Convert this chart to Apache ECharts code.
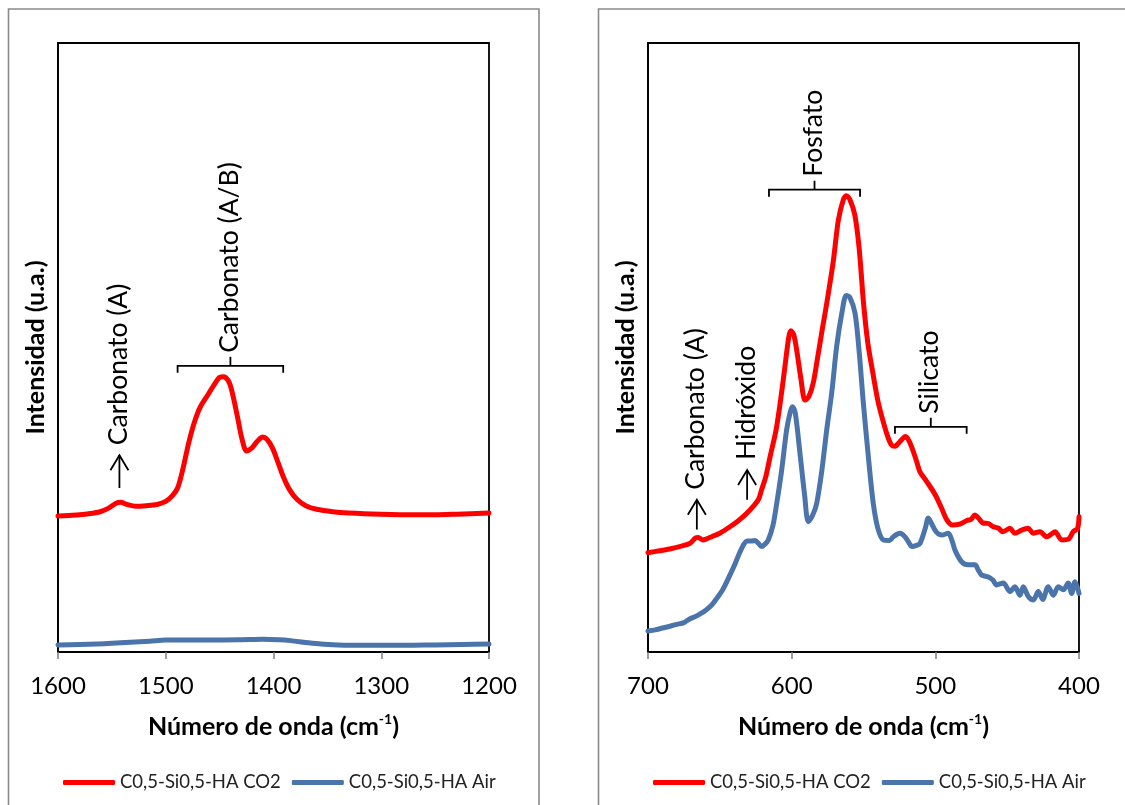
<!DOCTYPE html>
<html>
<head>
<meta charset="utf-8">
<script src="https://cdn.jsdelivr.net/npm/echarts@6/dist/echarts.min.js"></script>
<style>
  html, body { margin: 0; padding: 0; background: #fff; overflow: hidden; }
  #main { width: 1125px; height: 805px; }
</style>
</head>
<body>
<div id="main"></div>
<script>
// FTIR spectra, wavenumber (cm-1) vs. intensity (arbitrary units)
const seriesNames = ['C0,5-Si0,5-HA CO2', 'C0,5-Si0,5-HA Air'];

// Carbonate region, 1600-1200 cm-1
const leftCO2 = [
  [1600,22.7],[1590,22.8],[1580,22.9],[1570,23.1],[1561,23.4],[1553,24.0],[1546,24.8],[1542,24.95],
  [1536,24.6],[1528,24.3],[1518,24.4],[1508,24.6],[1500,25.1],[1494,26.0],[1489,27.3],[1484,30.5],
  [1479,34.5],[1474,37.8],[1468,40.6],[1461,42.6],[1455,44.3],[1450,45.5],[1446,45.6],[1441,44.6],
  [1437,42.0],[1433,38.6],[1429,35.2],[1425,33.4],[1420,33.9],[1415,35.0],[1410,35.7],[1406,35.3],
  [1401,33.9],[1396,31.6],[1391,29.2],[1385,27.0],[1378,25.4],[1370,24.4],[1360,23.8],[1345,23.4],
  [1330,23.2],[1300,23.0],[1270,22.9],[1250,22.9],[1230,23.0],[1200,23.2]
];
const leftAir = [
  [1600,1.48],[1580,1.55],[1564,1.64],[1550,1.75],[1533,1.92],[1515,2.1],[1500,2.3],[1480,2.3],
  [1456,2.3],[1430,2.35],[1410,2.42],[1395,2.35],[1384,2.2],[1370,1.9],[1356,1.64],[1340,1.5],
  [1320,1.43],[1299,1.43],[1270,1.45],[1250,1.5],[1225,1.58],[1200,1.64]
];

// Phosphate / silicate region, 700-400 cm-1
const rightCO2 = [
  [700,16.5],[692,16.8],[685,17.1],[678,17.5],[671,18.0],[667,18.9],[665,19.0],[662,18.6],[660,18.7],
  [655,19.2],[650,19.7],[644,20.6],[638,21.6],[632,22.8],[626,24.3],[623,25.3],[621,26.8],[618,29.0],
  [615,32.3],[611,36.5],[608,41.1],[605,46.5],[602,52.0],[600.5,53.0],[598.5,52.3],[596.5,49.8],
  [593.5,45.0],[590.7,41.6],[588,42.2],[585,44.4],[582,48.5],[578.5,53.5],[575.6,57.5],[571,64.5],
  [567.5,71.2],[564,74.6],[562,75.2],[559.5,74.6],[556,72.0],[553,66.5],[550,57.6],[547,51.0],
  [543,45.4],[540,41.5],[536,37.8],[533,35.5],[530.5,34.2],[528,34.0],[526,34.4],[523,35.2],
  [521,35.6],[519,35.2],[516.5,33.9],[513,31.5],[510.7,29.8],[506,28.2],[500,26.0],[496,24.0],
  [492,21.9],[488,21.05],[483,21.2],[478,21.8],[475,22.0],[472.5,22.7],[470,22.2],[467,21.4],
  [463,21.3],[460,20.8],[456,20.5],[453,19.95],[448,20.5],[444.6,19.7],[440,20.2],[435.3,20.5],
  [431.8,19.7],[427.2,19.95],[422.5,19.1],[419,19.6],[416.7,19.95],[412,18.6],[407.5,18.7],
  [404,19.95],[401,20.5],[400,22.4]
];
const rightAir = [
  [700,3.6],[695,3.8],[690,4.1],[684.7,4.4],[680,4.7],[675,5.0],[671,5.6],[667,6.0],[664,6.4],
  [660,7.0],[656,7.8],[653,8.7],[648,10.4],[643,12.8],[639,14.9],[636,16.6],[633,18.0],[631,18.4],
  [628,18.4],[625.5,18.5],[623,18.0],[621,17.5],[619,17.8],[616.3,18.6],[613,21.0],[610.4,24.6],
  [607,30.0],[603.5,36.7],[601,39.6],[599.5,40.5],[597.5,39.5],[594.2,32.8],[591,26.0],[588.4,21.6],
  [585.5,22.6],[582.6,24.6],[579,30.0],[575.6,36.7],[572,43.0],[568.7,50.4],[565,56.0],[562,58.8],
  [559.5,58.5],[555.9,55.9],[553,49.5],[550.1,41.1],[546.5,32.0],[543.2,24.6],[540,20.5],[536.2,18.6],
  [532,18.5],[529.3,19.1],[526,19.6],[524.6,19.7],[521.1,19.1],[518,18.0],[516.5,17.5],[513,17.7],
  [510.7,18.0],[507,20.5],[504.9,22.2],[502,21.0],[500.2,20.2],[498,19.6],[495.6,19.4],[491,19.7],
  [488,18.2],[486.3,16.9],[481.7,15.0],[477.1,14.5],[472.4,14.5],[470,13.6],[467.7,12.8],[463.1,12.5],
  [460,12.0],[457.3,11.2],[452.7,11.5],[448,10.1],[444.6,10.9],[441.1,9.5],[438.8,10.9],[435.3,9.3],
  [431.8,8.7],[428.3,10.1],[425.3,8.8],[421.4,10.9],[417.9,9.5],[414.4,10.9],[410.9,10.4],[407.5,11.5],
  [405.1,9.8],[402.8,11.7],[400,9.8]
];

// Band assignments: arrows point at single bands, brackets span band groups
const leftArrows = [{ text: 'Carbonato (A)', wn: 1543, from: 27.3, to: 32.7 }];
const leftBrackets = [{ text: 'Carbonato (A/B)', from: 1489, to: 1391, level: 47.4 }];
const rightArrows = [
  { text: 'Carbonato (A)', wn: 666, from: 20.3, to: 25.2 },
  { text: 'Hidróxido', wn: 631, from: 25.2, to: 30.1 }
];
const rightBrackets = [
  { text: 'Fosfato', from: 615.8, to: 552.4, level: 76.2 },
  { text: 'Silicato', from: 528.1, to: 478.2, level: 37.2 }
];

const FONT = 'Lato';
const RED = '#FF0000';
const BLUE = '#4A74AA';

const chart = echarts.init(document.getElementById('main'), null, { renderer: 'canvas' });

function xAxisFor(gridIndex, min, max) {
  return {
    gridIndex, type: 'value', min, max, interval: 100, inverse: true,
    axisLine: { show: true, onZero: false, lineStyle: { color: '#000', width: 1.8 } },
    axisTick: { show: true, inside: false, length: 7, lineStyle: { color: '#7f7f7f', width: 1.5 } },
    axisLabel: { margin: 22, fontSize: 24, fontFamily: FONT, color: '#000', formatter: v => String(v) },
    splitLine: { show: false },
    name: '{b|Número de onda (cm}{s|-1}{b|)}',
    nameLocation: 'middle', nameGap: 60,
    nameTextStyle: {
      rich: {
        b: { fontFamily: FONT, fontWeight: 'bold', fontSize: 25, color: '#000', lineHeight: 30 },
        s: { fontFamily: FONT, fontWeight: 'bold', fontSize: 14, color: '#000', verticalAlign: 'top', lineHeight: 15 }
      }
    }
  };
}
function yAxisFor(gridIndex, min, max) {
  return {
    gridIndex, type: 'value', min, max,
    axisLabel: { show: false }, axisTick: { show: false }, splitLine: { show: false },
    axisLine: { show: true, lineStyle: { color: '#000', width: 1.8 } },
    name: 'Intensidad (u.a.)', nameLocation: 'middle', nameGap: 10,
    nameTextStyle: { fontFamily: FONT, fontWeight: 'bold', fontSize: 25, color: '#000' }
  };
}
function lineSeries(name, data, color, gi) {
  return {
    type: 'line', name, data, xAxisIndex: gi, yAxisIndex: gi,
    symbol: 'none', showSymbol: false, smooth: 0.3, clip: true,
    lineStyle: { color, width: 5, cap: 'round', join: 'round' },
    itemStyle: { color }
  };
}
function legendAt(left) {
  return {
    left, top: 773, orient: 'horizontal', padding: 0,
    icon: 'roundRect', itemWidth: 52, itemHeight: 5, itemGap: 11,
    textStyle: { fontFamily: FONT, fontSize: 18.5, color: '#222' },
    data: seriesNames, selectedMode: false
  };
}

chart.setOption({
  backgroundColor: '#fff',
  animation: false,
  grid: [
    { left: 58, top: 43, width: 431, height: 609, show: true, borderColor: '#000', borderWidth: 1.8 },
    { left: 648, top: 43, width: 431, height: 609, show: true, borderColor: '#000', borderWidth: 1.8 }
  ],
  xAxis: [xAxisFor(0, 1200, 1600), xAxisFor(1, 400, 700)],
  yAxis: [yAxisFor(0, 0.33, 100.5), yAxisFor(1, 0.16, 100.33)],
  legend: [legendAt(63), legendAt(653)],
  series: [
    lineSeries(seriesNames[0], leftCO2, RED, 0),
    lineSeries(seriesNames[1], leftAir, BLUE, 0),
    lineSeries(seriesNames[0], rightCO2, RED, 1),
    lineSeries(seriesNames[1], rightAir, BLUE, 1)
  ]
});

// Annotation graphics, placed through each grid's own scales
const ink = { stroke: '#000', lineWidth: 1.8, fill: null };
const noteFont = { fontFamily: FONT, fontSize: 26.5, fill: '#000' };

function verticalLabel(text, x, yBottom) {
  return {
    type: 'text', x: x, y: yBottom, rotation: Math.PI / 2, silent: true,
    style: Object.assign({ text, align: 'left', verticalAlign: 'middle' }, noteFont)
  };
}
function arrowGraphics(a, gi) {
  const base = chart.convertToPixel({ gridIndex: gi }, [a.wn, a.from]);
  const tip = chart.convertToPixel({ gridIndex: gi }, [a.wn, a.to]);
  return [
    { type: 'line', silent: true, shape: { x1: base[0], y1: base[1], x2: tip[0], y2: tip[1] }, style: ink },
    { type: 'polyline', silent: true,
      shape: { points: [[tip[0] - 9, tip[1] + 15], [tip[0], tip[1]], [tip[0] + 9, tip[1] + 15]] }, style: ink },
    verticalLabel(a.text, tip[0] - 1, tip[1] - 10)
  ];
}
function bracketGraphics(b, gi) {
  const p1 = chart.convertToPixel({ gridIndex: gi }, [b.from, b.level]);
  const p2 = chart.convertToPixel({ gridIndex: gi }, [b.to, b.level]);
  const y = p1[1], mid = (p1[0] + p2[0]) / 2;
  return [
    { type: 'polyline', silent: true,
      shape: { points: [[p1[0], y + 7], [p1[0], y], [p2[0], y], [p2[0], y + 7]] }, style: ink },
    { type: 'line', silent: true, shape: { x1: mid, y1: y, x2: mid, y2: y - 9 }, style: ink },
    verticalLabel(b.text, mid - 1, y - 13)
  ];
}

const graphics = [
  { type: 'rect', silent: true, z: -10, shape: { x: 8.5, y: 9, width: 530.5, height: 830 },
    style: { fill: null, stroke: '#8a8a8a', lineWidth: 1.6 } },
  { type: 'rect', silent: true, z: -10, shape: { x: 598.5, y: 9, width: 560, height: 830 },
    style: { fill: null, stroke: '#8a8a8a', lineWidth: 1.6 } }
];
leftArrows.forEach(a => graphics.push(...arrowGraphics(a, 0)));
leftBrackets.forEach(b => graphics.push(...bracketGraphics(b, 0)));
rightArrows.forEach(a => graphics.push(...arrowGraphics(a, 1)));
rightBrackets.forEach(b => graphics.push(...bracketGraphics(b, 1)));

chart.setOption({ graphic: graphics });
</script>
</body>
</html>
